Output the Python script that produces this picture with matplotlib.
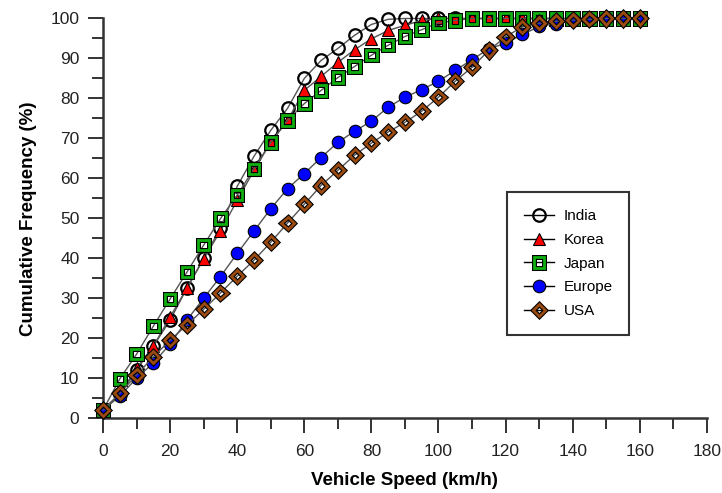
import matplotlib
matplotlib.use("Agg")
import matplotlib.pyplot as plt
import matplotlib.patheffects as pe
from matplotlib.lines import Line2D
from matplotlib.legend_handler import HandlerTuple

plt.rcParams['font.family'] = ['Liberation Sans', 'DejaVu Sans']

speed = list(range(0, 165, 5))

india = [2, 6, 12, 18, 24.5, 32.5, 40, 47.5, 58, 65.5, 72, 77.5, 85, 89.5, 92.5, 95.8,
         98.5, 99.8, 100, 100, 100, 100, 100, 100, 100, 100, 100, 100, 100, 100, 100, 100, 100]
korea = [2, 6, 12.5, 18, 25.3, 32.5, 39.8, 46.8, 54.5, 62, 69, 74.5, 82, 85.5, 89, 92.2,
         94.9, 97, 98.3, 99.5, 100, 100, 100, 100, 100, 100, 100, 100, 100, 100, 100, 100, 100]
japan = [2, 9.8, 16, 23, 29.8, 36.5, 43.3, 49.9, 55.8, 62.4, 69, 74.5, 78.7, 82, 85.2, 88,
         90.8, 93.3, 95.5, 97.2, 98.9, 99.5, 100, 100, 100, 100, 100, 100, 100, 100, 100, 100, 100]
europe = [2, 5.5, 10, 13.8, 18.5, 24.5, 30, 35.4, 41.2, 46.8, 52.4, 57.4, 61.2, 65.2, 69, 71.8,
          74.3, 77.8, 80.3, 82.2, 84.3, 87, 89.7, 92.4, 93.8, 96, 98, 98.7, 99.5, 99.8, 100, 100, 100]
usa = [2, 6.2, 10.8, 15.3, 19.5, 23.3, 27.2, 31.3, 35.5, 39.5, 44, 48.8, 53.5, 58.2, 62, 65.8,
       68.8, 71.6, 74, 76.8, 80.3, 84.3, 87.8, 92, 95.4, 97.9, 98.8, 99.3, 99.6, 99.8, 100, 100, 100]

labels = ["India", "Korea", "Japan", "Europe", "USA"]
xticks = [0, 20, 40, 60, 80, 100, 120, 140, 160, 180]
yticks = [0, 10, 20, 30, 40, 50, 60, 70, 80, 90, 100]

fig = plt.figure(figsize=(7.22, 4.93), dpi=100)
ax = fig.add_axes([0.1427, 0.152, 0.8363, 0.8105])

line_col = '#555555'
outline = [pe.Stroke(linewidth=3.6, foreground='black'), pe.Normal()]

styles = [
    dict(marker='o', ms=9, mfc='none', mec='black', mew=1.6),
    dict(marker='^', ms=9, mfc='red', mec='black', mew=0.8),
    dict(marker='s', ms=7.5, mfc='none', mec='#10b010', mew=2.0),
    dict(marker='o', ms=9, mfc='#0000ff', mec='black', mew=0.8),
    dict(marker='D', ms=6.2, mfc='none', mec='#9a4a10', mew=2.0),
]
series = [india, korea, japan, europe, usa]
outlined = (2, 4)

for i, (y, st) in enumerate(zip(series, styles)):
    ax.plot(speed, y, color=line_col, lw=1.0, zorder=2 + i, clip_on=False)
    h, = ax.plot(speed, y, linestyle='none', zorder=2 + i, clip_on=False, **st)
    if i in outlined:
        h.set_path_effects(outline)

ax.set_xlim(0, 180)
ax.set_ylim(0, 100)
ax.set_xticks(xticks)
ax.set_yticks(yticks)
ax.set_xticks(range(0, 181, 10), minor=True)
ax.set_yticks(range(0, 101, 5), minor=True)

for s in ['top', 'right']:
    ax.spines[s].set_visible(False)
for s in ['left', 'bottom']:
    ax.spines[s].set_linewidth(1.8)
    ax.spines[s].set_color('#333333')

ax.tick_params(which='major', direction='out', length=11, width=1.4, color='#333333',
               labelsize=12.5, pad=6, labelcolor='#222222')
ax.tick_params(axis='x', which='major', pad=8)
ax.tick_params(which='minor', direction='out', length=8, width=1.4, color='#333333')

ax.set_xlabel("Vehicle Speed (km/h)", fontsize=13.5, fontweight='bold', labelpad=9)
ax.set_ylabel("Cumulative Frequency (%)", fontsize=13.5, fontweight='bold', labelpad=10)

leg_handles = []
for i, st in enumerate(styles):
    ln = Line2D([], [], color='black', lw=1.0)
    mk = Line2D([], [], linestyle='none', **st)
    if i in outlined:
        mk.set_path_effects(outline)
    leg_handles.append((ln, mk))

leg = ax.legend(leg_handles, labels, loc='upper left', bbox_to_anchor=(0.669, 0.565),
                handler_map={tuple: HandlerTuple(ndivide=1, pad=0)},
                frameon=True, fancybox=False, edgecolor='black', fontsize=11,
                handlelength=2.0, labelspacing=0.64, borderpad=1.1, handletextpad=0.6,
                borderaxespad=0)
leg.get_frame().set_linewidth(1.5)

fig.savefig("out.png", dpi=100)
